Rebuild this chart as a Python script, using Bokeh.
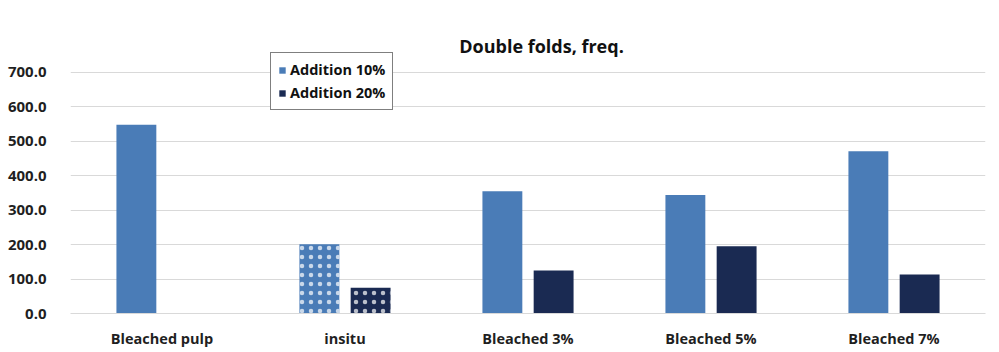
import math
from bokeh.plotting import figure
from bokeh.models import ColumnDataSource, FactorRange, Range1d, Legend, LegendItem, Label, NumeralTickFormatter
from bokeh.transform import dodge
from bokeh.embed import file_html
from bokeh.resources import INLINE

categories = ["Bleached pulp", "insitu", "Bleached 3%", "Bleached 5%", "Bleached 7%"]
addition_10 = [548, 201, 355, 344, 471]
addition_20 = [float("nan"), 75, 125, 195, 113]
patterned = ["insitu"]
y_ticks = [0, 100, 200, 300, 400, 500, 600, 700]

FONT = "Open Sans"
C10 = "#4A7CB7"
C20 = "#1A2A52"

hatch = ["." if c in patterned else " " for c in categories]
src = ColumnDataSource(dict(cat=categories, a10=addition_10, a20=addition_20, hatch=hatch))

# frame spans y=20..313 px; 700 sits at y=72
p = figure(x_range=FactorRange(*categories), y_range=Range1d(0, 851),
           width=999, height=352, output_backend="svg", toolbar_location=None,
           min_border_left=70, min_border_right=14, min_border_top=20, min_border_bottom=39)

r1 = p.vbar(x=dodge("cat", -0.14, range=p.x_range), top="a10", width=0.218, source=src,
            fill_color=C10, line_color=None, hatch_pattern="hatch", hatch_color="white",
            hatch_scale=9, hatch_weight=0.6, hatch_alpha=0.7)
r2 = p.vbar(x=dodge("cat", 0.14, range=p.x_range), top="a20", width=0.218, source=src,
            fill_color=C20, line_color=None, hatch_pattern="hatch", hatch_color="white",
            hatch_scale=9, hatch_weight=0.6, hatch_alpha=0.7)

p.outline_line_color = None
p.background_fill_color = "white"
p.xgrid.grid_line_color = None
p.ygrid.grid_line_color = "#D9D9D9"
p.ygrid.grid_line_width = 1
p.ygrid.ticker = y_ticks
p.yaxis.ticker = y_ticks
p.yaxis.formatter = NumeralTickFormatter(format="0.0")
for ax in (p.xaxis[0], p.yaxis[0]):
    ax.axis_line_color = None
    ax.major_tick_line_color = None
    ax.minor_tick_line_color = None
    ax.major_label_text_font = FONT
    ax.major_label_text_font_style = "bold"
    ax.major_label_text_font_size = "14.5px"
    ax.major_label_text_color = "#1F1F1F"
p.yaxis.major_label_text_font_size = "15px"
p.xaxis.axis_line_color = "#D9D9D9"
p.yaxis.major_label_standoff = 18
p.xaxis.major_label_standoff = 9

title = Label(x=471, y=268, x_units="screen", y_units="screen", text="Double folds, freq.",
              text_font=FONT, text_font_style="bold", text_font_size="18px",
              text_color="#111111", text_align="center", text_baseline="middle")
p.add_layout(title)

legend = Legend(items=[LegendItem(label="Addition 10%", renderers=[r1], index=0),
                       LegendItem(label="Addition 20%", renderers=[r2], index=2)],
                location=(200, 203), orientation="vertical",
                border_line_color="black", border_line_width=1,
                background_fill_color="white", background_fill_alpha=1,
                label_text_font=FONT, label_text_font_style="bold", label_text_font_size="14.5px",
                label_text_color="#111111", glyph_width=8, glyph_height=8,
                label_standoff=4, spacing=4, padding=7, margin=0, label_height=14)
p.add_layout(legend)

open("out.html", "w").write(file_html(p, INLINE))
